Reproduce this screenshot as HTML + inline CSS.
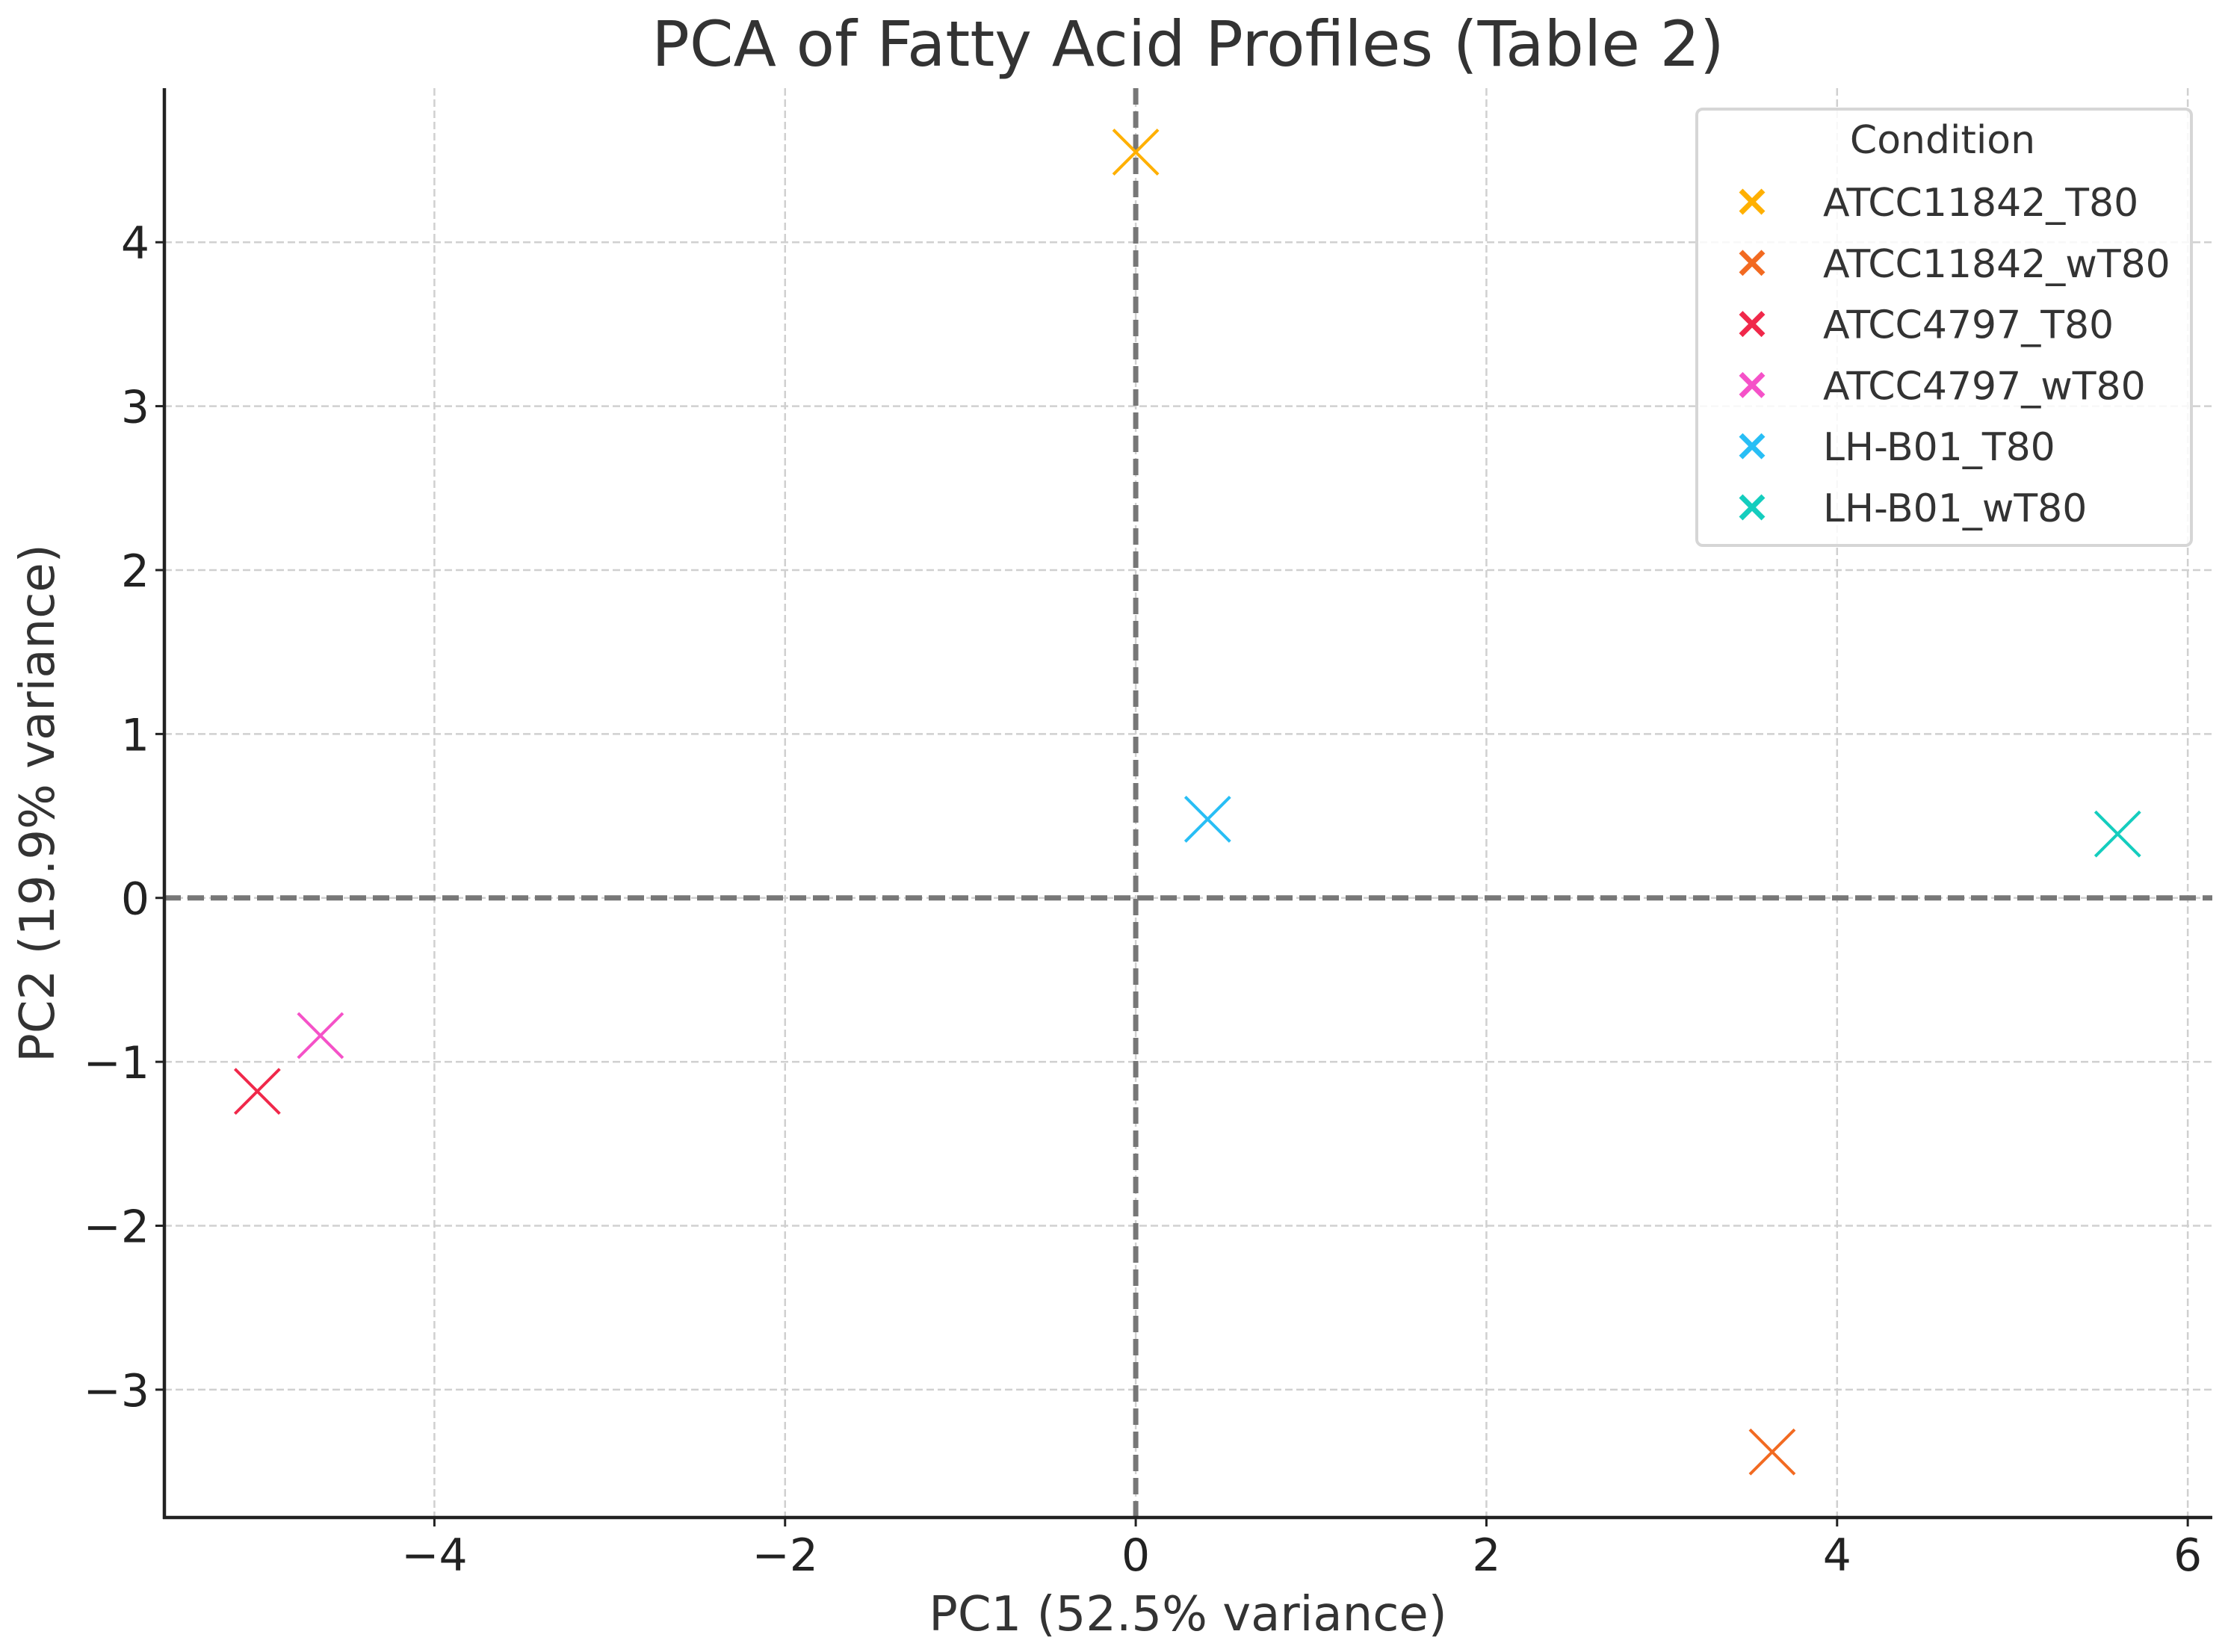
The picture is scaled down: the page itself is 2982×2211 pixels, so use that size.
<!DOCTYPE html>
<html><head><meta charset="utf-8"><style>
html,body{margin:0;padding:0;background:#fff;}
svg{display:block;font-family:"DejaVu Sans","Liberation Sans",sans-serif;}
</style></head><body>
<svg id="chart" width="2982" height="2211" viewBox="0 0 2982 2211">
<g id="grid"></g>
<g id="zero"></g>
<g id="points"></g>
<g id="axes"></g>
<text x="1590" y="88" text-anchor="middle" font-size="84" fill="#333">PCA of Fatty Acid Profiles (Table 2)</text>
<text x="1590" y="2182" text-anchor="middle" font-size="64" fill="#333">PC1 (52.5% variance)</text>
<text transform="translate(72,1075) rotate(-90)" text-anchor="middle" font-size="64" fill="#333">PC2 (19.9% variance)</text>
<g id="legend"></g>
</svg>
<script>
const categories=["ATCC11842_T80","ATCC11842_wT80","ATCC4797_T80","ATCC4797_wT80","LH-B01_T80","LH-B01_wT80"];
const pc1Values=[0.0,3.63,-5.01,-4.65,0.41,5.60];
const pc2Values=[4.55,-3.38,-1.18,-0.84,0.48,0.39];
const colors=["#FFB000","#F26A21","#F0284A","#F552C8","#28BEF5","#14CDBE"];
const xTicks=[-4,-2,0,2,4,6];
const yTicks=[-3,-2,-1,0,1,2,3,4];
const NS="http://www.w3.org/2000/svg";
const L=220,R=2961,T=118,B=2031;
const xMin=-5.54,xMax=6.14,yMin=-3.78,yMax=4.94;
const sx=v=>L+(v-xMin)/(xMax-xMin)*(R-L);
const sy=v=>B-(v-yMin)/(yMax-yMin)*(B-T);
function mk(tag,attrs,parent){const e=document.createElementNS(NS,tag);for(const k in attrs)e.setAttribute(k,attrs[k]);parent.appendChild(e);return e;}
const grid=document.getElementById('grid'),axes=document.getElementById('axes'),pts=document.getElementById('points'),zero=document.getElementById('zero'),leg=document.getElementById('legend');
xTicks.forEach(t=>{
 const x=sx(t);
 const g=mk('line',{x1:x,x2:x,y1:T,y2:B,stroke:'#d0d0d0','stroke-width':2.5,'stroke-dasharray':'10,5'},grid);
 
 
 const tk=mk('line',{x1:x,x2:x,y1:B,y2:B+12,stroke:'#222','stroke-width':3},axes);
 
 
 const tx=mk('text',{x:x,y:2102,'text-anchor':'middle','font-size':60,fill:'#222'},axes);
 tx.textContent=(t<0?'\u2212':'')+Math.abs(t);
 
 
});
yTicks.forEach(t=>{
 const y=sy(t);
 const g=mk('line',{x1:L,x2:R,y1:y,y2:y,stroke:'#d0d0d0','stroke-width':2.5,'stroke-dasharray':'10,5'},grid);
 
 
 const tk=mk('line',{x1:L-12,x2:L,y1:y,y2:y,stroke:'#222','stroke-width':3},axes);
 
 
 const tx=mk('text',{x:200,y:y+22,'text-anchor':'end','font-size':60,fill:'#222'},axes);
 tx.textContent=(t<0?'\u2212':'')+Math.abs(t);
 
 
});
const zx=mk('line',{x1:sx(0),x2:sx(0),y1:T,y2:B,stroke:'#777','stroke-width':7,'stroke-dasharray':'22,9'},zero);


const zy=mk('line',{x1:L,x2:R,y1:sy(0),y2:sy(0),stroke:'#777','stroke-width':7,'stroke-dasharray':'22,9'},zero);


const sl=mk('line',{x1:L,x2:L,y1:T,y2:B+2,stroke:'#222','stroke-width':4.5},axes);


const sb=mk('line',{x1:L-2,x2:R,y1:B,y2:B,stroke:'#222','stroke-width':4.5},axes);


function cross(cx,cy,s,c,w,parent){
 const g=mk('g',{},parent);
 mk('line',{x1:cx-s,y1:cy-s,x2:cx+s,y2:cy+s,stroke:c,'stroke-width':w},g);
 mk('line',{x1:cx-s,y1:cy+s,x2:cx+s,y2:cy-s,stroke:c,'stroke-width':w},g);
 return g;
}
categories.forEach((c,i)=>{
 const p=cross(sx(pc1Values[i]),sy(pc2Values[i]),30,colors[i],4,pts);
 
 
});
const box=mk('rect',{x:2271,y:146,width:662,height:584,rx:8,fill:'#fff','fill-opacity':0.85,stroke:'#d6d6d6','stroke-width':4},leg);


const lt=mk('text',{x:2600,y:205,'text-anchor':'middle','font-size':52,fill:'#333'},leg);
lt.textContent='Condition';


categories.forEach((c,i)=>{
 const by=289+i*81.8;
 const g=mk('g',{},leg);
 
 
 cross(2345,by-19,15,colors[i],7,g);
 const t=mk('text',{x:2440,y:by,'font-size':52,fill:'#333'},g);
 t.textContent=c;
});
</script>
</body></html>
